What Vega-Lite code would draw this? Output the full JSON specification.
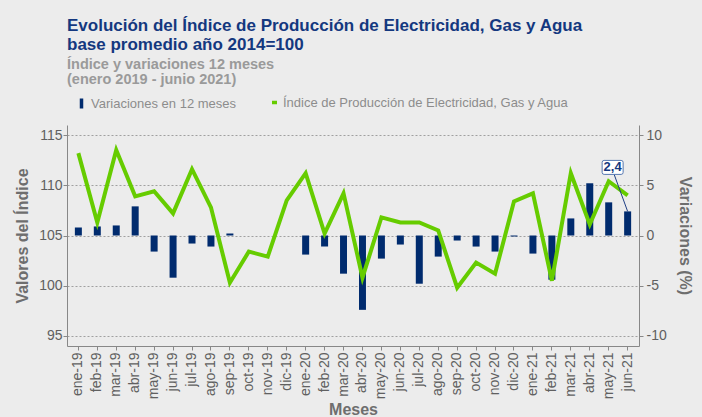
{
  "$schema": "https://vega.github.io/schema/vega-lite/v6.json",
  "width": 572,
  "height": 221,
  "autosize": {"type": "none"},
  "padding": {"left": 67, "top": 125, "right": 63, "bottom": 71},
  "background": "#ECECEC",
  "title": {
    "text": ["Evolución del Índice de Producción de Electricidad, Gas y Agua", "base promedio año 2014=100"],
    "subtitle": ["Índice y variaciones 12 meses", "(enero 2019 - junio 2021)"],
    "anchor": "start",
    "frame": "group",
    "offset": 9
  },
  "datasets": {
    "serie": [
      {"mes": "ene-19", "indice": 113.2, "var": 0.8},
      {"mes": "feb-19", "indice": 106.3, "var": 0.9},
      {"mes": "mar-19", "indice": 113.5, "var": 1.0},
      {"mes": "abr-19", "indice": 108.9, "var": 2.9},
      {"mes": "may-19", "indice": 109.4, "var": -1.6},
      {"mes": "jun-19", "indice": 107.2, "var": -4.2},
      {"mes": "jul-19", "indice": 111.6, "var": -0.8},
      {"mes": "ago-19", "indice": 107.8, "var": -1.1},
      {"mes": "sep-19", "indice": 100.3, "var": 0.2},
      {"mes": "oct-19", "indice": 103.4, "var": 0.0},
      {"mes": "nov-19", "indice": 102.9, "var": 0.0},
      {"mes": "dic-19", "indice": 108.5, "var": 0.0},
      {"mes": "ene-20", "indice": 111.2, "var": -1.9},
      {"mes": "feb-20", "indice": 105.2, "var": -1.1},
      {"mes": "mar-20", "indice": 109.2, "var": -3.8},
      {"mes": "abr-20", "indice": 100.8, "var": -7.4},
      {"mes": "may-20", "indice": 106.8, "var": -2.3},
      {"mes": "jun-20", "indice": 106.3, "var": -0.9},
      {"mes": "jul-20", "indice": 106.3, "var": -4.8},
      {"mes": "ago-20", "indice": 105.5, "var": -2.1},
      {"mes": "sep-20", "indice": 99.8, "var": -0.5},
      {"mes": "oct-20", "indice": 102.3, "var": -1.1},
      {"mes": "nov-20", "indice": 101.2, "var": -1.6},
      {"mes": "dic-20", "indice": 108.4, "var": -0.1},
      {"mes": "ene-21", "indice": 109.2, "var": -1.8},
      {"mes": "feb-21", "indice": 100.5, "var": -4.4},
      {"mes": "mar-21", "indice": 111.2, "var": 1.7},
      {"mes": "abr-21", "indice": 106.1, "var": 5.2},
      {"mes": "may-21", "indice": 110.4, "var": 3.3},
      {"mes": "jun-21", "indice": 109.0, "var": 2.4}
    ]
  },
  "data": {"name": "serie"},
  "encoding": {
    "x": {
      "field": "mes",
      "type": "ordinal",
      "sort": null,
      "scale": {"paddingInner": 0, "paddingOuter": 0.1},
      "axis": {
        "title": "Meses",
        "labelAngle": 270,
        "labelFontSize": 14,
        "labelColor": "#606060",
        "labelPadding": 2,
        "tickSize": 4,
        "tickColor": "#888888",
        "domainColor": "#888888",
        "titleFontSize": 16,
        "titleColor": "#6E6E6E",
        "titlePadding": 3
      }
    }
  },
  "layer": [
    {
      "layer": [
        {
          "mark": {"type": "rule", "color": "#7F7F7F", "strokeWidth": 1},
          "encoding": {"y": {"datum": 0}}
        },
        {
          "mark": {"type": "bar", "size": 7},
          "encoding": {
            "y": {
              "field": "var",
              "type": "quantitative",
              "scale": {"domain": [-11, 11], "nice": false, "zero": false},
              "axis": {
                "orient": "right",
                "values": [-10, -5, 0, 5, 10],
                "title": "Variaciones (%)",
                "titleAngle": 90,
                "grid": false,
                "labelFontSize": 14,
                "labelColor": "#606060",
                "labelPadding": 3,
                "tickSize": 4,
                "tickColor": "#888888",
                "domainColor": "#888888",
                "titleFontSize": 16,
                "titleColor": "#6E6E6E",
                "titlePadding": 10
              }
            },
            "fill": {
              "datum": "Variaciones en 12 meses",
              "scale": {"range": ["#002B6E"]},
              "legend": {
                "orient": "none",
                "legendX": 8,
                "legendY": -28,
                "title": null,
                "padding": 0,
                "symbolType": "M-0.35,-1H0.35V1H-0.35Z",
                "symbolSize": 100,
                "symbolStrokeWidth": 0,
                "labelOffset": 3,
                "labelLimit": 0,
                "labelFontSize": 13,
                "labelColor": "#8C8C8C"
              }
            }
          }
        }
      ]
    },
    {
      "mark": {"type": "line", "strokeWidth": 4},
      "encoding": {
        "y": {
          "field": "indice",
          "type": "quantitative",
          "scale": {"domain": [94, 116], "nice": false, "zero": false},
          "axis": {
            "orient": "left",
            "values": [95, 100, 105, 110, 115],
            "title": "Valores del Índice",
            "grid": true,
            "gridDash": [2, 2],
            "gridColor": "#A0A0A0",
            "labelFontSize": 14,
            "labelColor": "#606060",
            "labelPadding": 1,
            "tickSize": 4,
            "tickColor": "#888888",
            "domainColor": "#888888",
            "titleFontSize": 16,
            "titleColor": "#6E6E6E",
            "titlePadding": 8
          }
        },
        "stroke": {
          "datum": "Índice de Producción de Electricidad, Gas y Agua",
          "scale": {"range": ["#66CC00"]},
          "legend": {
            "orient": "none",
            "legendX": 201,
            "legendY": -29,
            "title": null,
            "padding": 0,
            "symbolType": "stroke",
            "symbolSize": 25,
            "symbolStrokeWidth": 3.5,
            "labelOffset": 2,
            "labelLimit": 0,
            "labelFontSize": 13,
            "labelColor": "#8C8C8C"
          }
        }
      }
    },
    {
      "transform": [{"filter": "datum.mes === 'jun-21'"}],
      "encoding": {
        "y": {
          "field": "var",
          "type": "quantitative",
          "scale": {"domain": [-11, 11], "nice": false, "zero": false},
          "axis": null
        }
      },
      "layer": [
        {
          "mark": {
            "type": "point",
            "shape": "M-13.5,-37L0,0",
            "size": 4,
            "filled": false,
            "stroke": "#1F3F85",
            "strokeWidth": 1,
            "opacity": 1
          }
        },
        {
          "mark": {
            "type": "point",
            "shape": "M-23.5,-51H-6.5Q-4.5,-51,-4.5,-49V-39Q-4.5,-37,-6.5,-37H-23.5Q-25.5,-37,-25.5,-39V-49Q-25.5,-51,-23.5,-51Z",
            "size": 4,
            "filled": true,
            "fill": "#FFFFFF",
            "stroke": "#5577B0",
            "strokeWidth": 1,
            "opacity": 1
          }
        },
        {
          "mark": {
            "type": "text",
            "dx": -15,
            "dy": -44,
            "align": "center",
            "baseline": "middle",
            "fontSize": 13,
            "fontWeight": "bold",
            "color": "#14387F"
          },
          "encoding": {"text": {"field": "var", "type": "quantitative", "format": ".1f"}}
        }
      ]
    }
  ],
  "resolve": {"scale": {"y": "independent"}, "axis": {"y": "independent"}},
  "config": {
    "font": "Liberation Sans",
    "view": {"stroke": null},
    "locale": {"number": {"decimal": ",", "thousands": ".", "grouping": [3], "currency": ["", ""], "minus": "-"}},
    "axis": {"titleFontWeight": "bold", "labelFont": "Liberation Sans", "titleFont": "Liberation Sans"},
    "legend": {"labelFont": "Liberation Sans"},
    "title": {
      "font": "Liberation Sans",
      "fontSize": 17,
      "fontWeight": "bold",
      "color": "#14387F",
      "lineHeight": 19,
      "subtitleFont": "Liberation Sans",
      "subtitleFontSize": 14.5,
      "subtitleFontWeight": "bold",
      "subtitleColor": "#9A9A9A",
      "subtitleLineHeight": 15,
      "subtitlePadding": 4
    }
  }
}
